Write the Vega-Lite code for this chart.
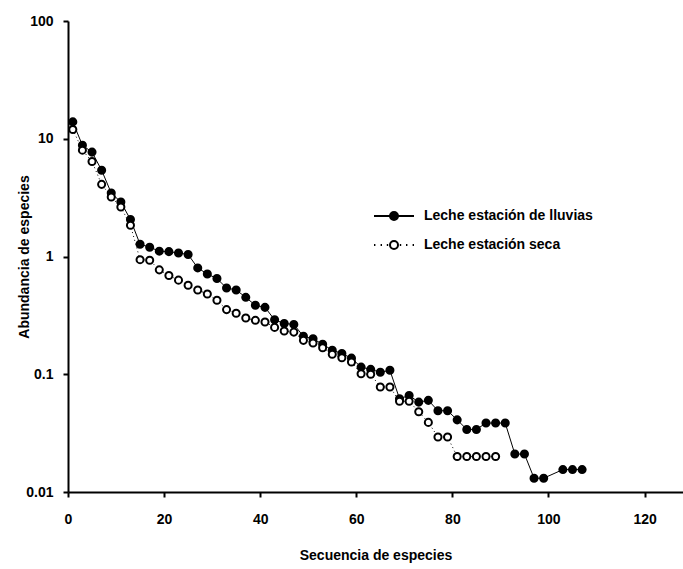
{
  "$schema": "https://vega.github.io/schema/vega-lite/v6.json",
  "width": 615,
  "height": 471,
  "autosize": "none",
  "padding": {"left": 68, "top": 21, "right": 0, "bottom": 77},
  "background": "white",
  "config": {
    "view": {"stroke": null},
    "font": "Liberation Sans",
    "axis": {
      "grid": false,
      "domainColor": "black",
      "domainWidth": 2,
      "tickColor": "black",
      "tickWidth": 2,
      "tickSize": 5,
      "labelFont": "Liberation Sans",
      "labelFontWeight": "bold",
      "labelFontSize": 14,
      "labelColor": "black",
      "titleFont": "Liberation Sans",
      "titleFontWeight": "bold",
      "titleFontSize": 14,
      "titleColor": "black",
      "labelFlush": false,
      "labelOverlap": false
    }
  },
  "datasets": {
    "rows": [
      {"serie": "Leche estación de lluvias", "x": 1, "y": 13.9},
      {"serie": "Leche estación de lluvias", "x": 3, "y": 8.8},
      {"serie": "Leche estación de lluvias", "x": 5, "y": 7.7},
      {"serie": "Leche estación de lluvias", "x": 7, "y": 5.4},
      {"serie": "Leche estación de lluvias", "x": 9, "y": 3.46},
      {"serie": "Leche estación de lluvias", "x": 11, "y": 2.9},
      {"serie": "Leche estación de lluvias", "x": 13, "y": 2.06},
      {"serie": "Leche estación de lluvias", "x": 15, "y": 1.27},
      {"serie": "Leche estación de lluvias", "x": 17, "y": 1.2},
      {"serie": "Leche estación de lluvias", "x": 19, "y": 1.11},
      {"serie": "Leche estación de lluvias", "x": 21, "y": 1.1},
      {"serie": "Leche estación de lluvias", "x": 23, "y": 1.07},
      {"serie": "Leche estación de lluvias", "x": 25, "y": 1.04},
      {"serie": "Leche estación de lluvias", "x": 27, "y": 0.8},
      {"serie": "Leche estación de lluvias", "x": 29, "y": 0.71},
      {"serie": "Leche estación de lluvias", "x": 31, "y": 0.65},
      {"serie": "Leche estación de lluvias", "x": 33, "y": 0.54},
      {"serie": "Leche estación de lluvias", "x": 35, "y": 0.52},
      {"serie": "Leche estación de lluvias", "x": 37, "y": 0.45},
      {"serie": "Leche estación de lluvias", "x": 39, "y": 0.385},
      {"serie": "Leche estación de lluvias", "x": 41, "y": 0.37},
      {"serie": "Leche estación de lluvias", "x": 43, "y": 0.29},
      {"serie": "Leche estación de lluvias", "x": 45, "y": 0.27},
      {"serie": "Leche estación de lluvias", "x": 47, "y": 0.265},
      {"serie": "Leche estación de lluvias", "x": 49, "y": 0.21},
      {"serie": "Leche estación de lluvias", "x": 51, "y": 0.2},
      {"serie": "Leche estación de lluvias", "x": 53, "y": 0.18},
      {"serie": "Leche estación de lluvias", "x": 55, "y": 0.16},
      {"serie": "Leche estación de lluvias", "x": 57, "y": 0.15},
      {"serie": "Leche estación de lluvias", "x": 59, "y": 0.137},
      {"serie": "Leche estación de lluvias", "x": 61, "y": 0.115},
      {"serie": "Leche estación de lluvias", "x": 63, "y": 0.11},
      {"serie": "Leche estación de lluvias", "x": 65, "y": 0.104},
      {"serie": "Leche estación de lluvias", "x": 67, "y": 0.108},
      {"serie": "Leche estación de lluvias", "x": 69, "y": 0.062},
      {"serie": "Leche estación de lluvias", "x": 71, "y": 0.066},
      {"serie": "Leche estación de lluvias", "x": 73, "y": 0.058},
      {"serie": "Leche estación de lluvias", "x": 75, "y": 0.06},
      {"serie": "Leche estación de lluvias", "x": 77, "y": 0.049},
      {"serie": "Leche estación de lluvias", "x": 79, "y": 0.049},
      {"serie": "Leche estación de lluvias", "x": 81, "y": 0.041},
      {"serie": "Leche estación de lluvias", "x": 83, "y": 0.034},
      {"serie": "Leche estación de lluvias", "x": 85, "y": 0.034},
      {"serie": "Leche estación de lluvias", "x": 87, "y": 0.0385},
      {"serie": "Leche estación de lluvias", "x": 89, "y": 0.0385},
      {"serie": "Leche estación de lluvias", "x": 91, "y": 0.0385},
      {"serie": "Leche estación de lluvias", "x": 93, "y": 0.021},
      {"serie": "Leche estación de lluvias", "x": 95, "y": 0.021},
      {"serie": "Leche estación de lluvias", "x": 97, "y": 0.0131},
      {"serie": "Leche estación de lluvias", "x": 99, "y": 0.0131},
      {"serie": "Leche estación de lluvias", "x": 103, "y": 0.0155},
      {"serie": "Leche estación de lluvias", "x": 105, "y": 0.0155},
      {"serie": "Leche estación de lluvias", "x": 107, "y": 0.0155},
      {"serie": "Leche estación seca", "x": 1, "y": 12.0},
      {"serie": "Leche estación seca", "x": 3, "y": 8.0},
      {"serie": "Leche estación seca", "x": 5, "y": 6.4},
      {"serie": "Leche estación seca", "x": 7, "y": 4.1},
      {"serie": "Leche estación seca", "x": 9, "y": 3.2},
      {"serie": "Leche estación seca", "x": 11, "y": 2.63},
      {"serie": "Leche estación seca", "x": 13, "y": 1.84},
      {"serie": "Leche estación seca", "x": 15, "y": 0.94},
      {"serie": "Leche estación seca", "x": 17, "y": 0.93},
      {"serie": "Leche estación seca", "x": 19, "y": 0.77},
      {"serie": "Leche estación seca", "x": 21, "y": 0.69},
      {"serie": "Leche estación seca", "x": 23, "y": 0.63},
      {"serie": "Leche estación seca", "x": 25, "y": 0.57},
      {"serie": "Leche estación seca", "x": 27, "y": 0.52},
      {"serie": "Leche estación seca", "x": 29, "y": 0.48},
      {"serie": "Leche estación seca", "x": 31, "y": 0.425},
      {"serie": "Leche estación seca", "x": 33, "y": 0.354},
      {"serie": "Leche estación seca", "x": 35, "y": 0.33},
      {"serie": "Leche estación seca", "x": 37, "y": 0.3},
      {"serie": "Leche estación seca", "x": 39, "y": 0.287},
      {"serie": "Leche estación seca", "x": 41, "y": 0.278},
      {"serie": "Leche estación seca", "x": 43, "y": 0.25},
      {"serie": "Leche estación seca", "x": 45, "y": 0.233},
      {"serie": "Leche estación seca", "x": 47, "y": 0.228},
      {"serie": "Leche estación seca", "x": 49, "y": 0.194},
      {"serie": "Leche estación seca", "x": 51, "y": 0.184},
      {"serie": "Leche estación seca", "x": 53, "y": 0.168},
      {"serie": "Leche estación seca", "x": 55, "y": 0.148},
      {"serie": "Leche estación seca", "x": 57, "y": 0.138},
      {"serie": "Leche estación seca", "x": 59, "y": 0.127},
      {"serie": "Leche estación seca", "x": 61, "y": 0.101},
      {"serie": "Leche estación seca", "x": 63, "y": 0.1},
      {"serie": "Leche estación seca", "x": 65, "y": 0.078},
      {"serie": "Leche estación seca", "x": 67, "y": 0.078},
      {"serie": "Leche estación seca", "x": 69, "y": 0.059},
      {"serie": "Leche estación seca", "x": 71, "y": 0.059},
      {"serie": "Leche estación seca", "x": 73, "y": 0.048},
      {"serie": "Leche estación seca", "x": 75, "y": 0.039},
      {"serie": "Leche estación seca", "x": 77, "y": 0.0293},
      {"serie": "Leche estación seca", "x": 79, "y": 0.0293},
      {"serie": "Leche estación seca", "x": 81, "y": 0.02},
      {"serie": "Leche estación seca", "x": 83, "y": 0.02},
      {"serie": "Leche estación seca", "x": 85, "y": 0.02},
      {"serie": "Leche estación seca", "x": 87, "y": 0.02},
      {"serie": "Leche estación seca", "x": 89, "y": 0.02}
    ]
  },
  "data": {"name": "rows"},
  "encoding": {
    "x": {
      "field": "x",
      "type": "quantitative",
      "scale": {"domain": [0, 128], "nice": false, "zero": false},
      "axis": {
        "title": "Secuencia de especies",
        "values": [0, 20, 40, 60, 80, 100, 120],
        "labelPadding": 15,
        "titlePadding": 22
      }
    },
    "y": {
      "field": "y",
      "type": "quantitative",
      "scale": {"type": "log", "domain": [0.01, 100], "nice": false},
      "axis": {
        "title": "Abundancia de especies",
        "values": [0.01, 0.1, 1, 10, 100],
        "format": "~g",
        "labelPadding": 10,
        "titlePadding": -6
      }
    }
  },
  "layer": [
    {
      "transform": [{"filter": "datum.serie === 'Leche estación de lluvias'"}],
      "mark": {"type": "line", "color": "black", "strokeWidth": 1},
      "encoding": {}
    },
    {
      "transform": [{"filter": "datum.serie === 'Leche estación seca'"}],
      "mark": {"type": "line", "color": "black", "strokeWidth": 1, "strokeDash": [1, 3]},
      "encoding": {}
    },
    {
      "mark": {
        "type": "point",
        "shape": "circle",
        "filled": true,
        "size": 50,
        "stroke": "black",
        "strokeWidth": 2,
        "opacity": 1
      },
      "encoding": {
        "fill": {
          "field": "serie",
          "type": "nominal",
          "scale": {
            "domain": ["Leche estación de lluvias", "Leche estación seca"],
            "range": ["black", "white"]
          },
          "legend": {
            "orient": "none",
            "legendX": 306,
            "legendY": 174,
            "title": null,
            "padding": 0,
            "labelFont": "Liberation Sans",
            "labelFontSize": 14,
            "labelFontWeight": "bold",
            "labelColor": "black",
            "labelLimit": 400,
            "labelOffset": 8,
            "rowPadding": -4,
            "symbolSize": 100,
            "encoding": {
              "symbols": {
                "shape": {
                  "condition": {"test": "datum.value === 'Leche estación de lluvias'", "value": "M-1,0L-0.2,0M0.2,0L1,0M-0.2,0A0.2,0.2,0,1,1,0.2,0A0.2,0.2,0,1,1,-0.2,0Z"},
                  "value": "M-1,0h0.07M-0.67,0h0.07M-0.36,0h0.07M0.29,0h0.07M0.6,0h0.07M0.93,0h0.07M-0.2,0A0.2,0.2,0,1,1,0.2,0A0.2,0.2,0,1,1,-0.2,0Z"
                },
                "stroke": {"value": "black"},
                "strokeWidth": {"value": 2},
                "size": {"value": 1600},
                "x": {"value": 20},
                "opacity": {"value": 1}
              }
            }
          }
        }
      }
    }
  ]
}
